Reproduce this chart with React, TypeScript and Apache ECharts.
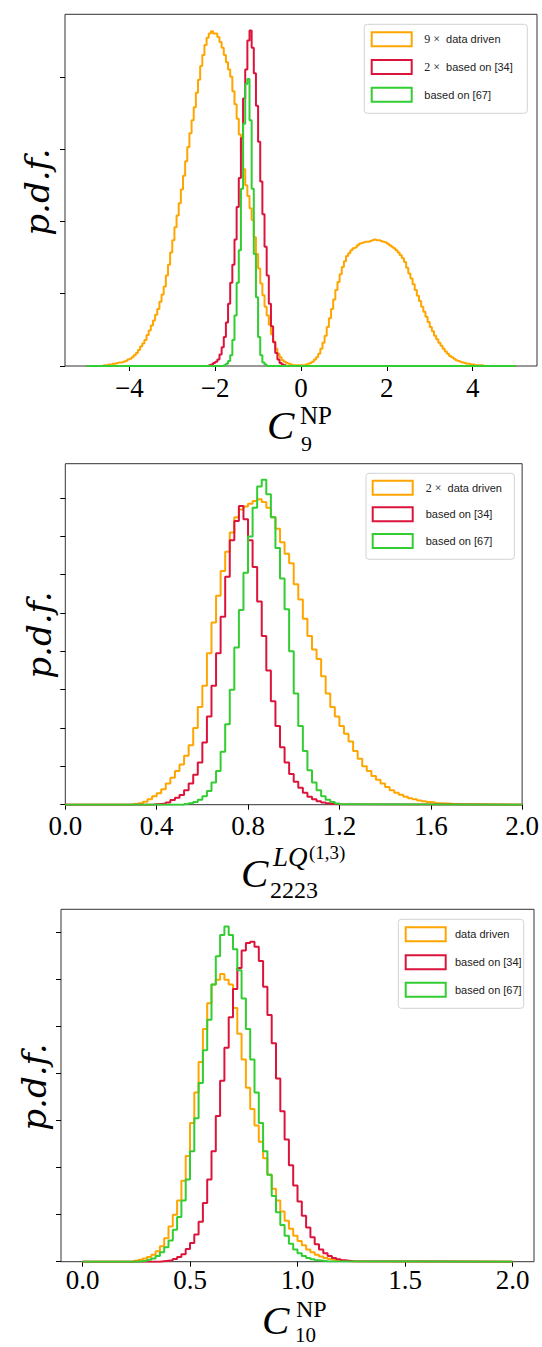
import React, { useEffect, useRef } from "react";
import * as echarts from "echarts";

// ---------- colours ----------
const ORANGE = "#FFA500";
const CRIMSON = "#DC143C";
const LIME = "#32CD32";

// ---------- Panel 1 : C9^NP ----------
const c9Range = [-5, 5];
const c9BinWidth = 0.05;
const c9XTicks = [-4, -2, 0, 2, 4];
const c9YTicks = [0, 1, 2, 3, 4];
const c9DataDrivenStart = -4.6;
const c9DataDriven = [
  0.01, 0.01, 0.02, 0.02, 0.03, 0.03, 0.04, 0.05, 0.05, 0.06, 0.07, 0.09, 0.10, 0.12, 0.15, 0.18,
  0.22, 0.27, 0.31, 0.36, 0.43, 0.49, 0.56, 0.63, 0.71, 0.79, 0.89, 0.99, 1.10, 1.25, 1.40, 1.57,
  1.74, 1.92, 2.08, 2.25, 2.44, 2.63, 2.83, 3.03, 3.22, 3.40, 3.58, 3.78, 3.96, 4.15, 4.30, 4.44,
  4.54, 4.60, 4.63, 4.60, 4.60, 4.55, 4.48, 4.40, 4.30, 4.20, 4.10, 4.00, 3.80, 3.62, 3.42, 3.20,
  2.95, 2.72, 2.50, 2.35, 2.18, 2.02, 1.78, 1.55, 1.35, 1.14, 0.98, 0.82, 0.70, 0.57, 0.44, 0.34,
  0.24, 0.17, 0.12, 0.08, 0.06, 0.04, 0.03, 0.02, 0.01, 0.01, 0.01, 0.01, 0.01, 0.01, 0.02, 0.03,
  0.04, 0.06, 0.09, 0.12, 0.17, 0.24, 0.32, 0.42, 0.54, 0.66, 0.79, 0.92, 1.05, 1.16, 1.27, 1.37,
  1.45, 1.52, 1.56, 1.60, 1.63, 1.64, 1.67, 1.69, 1.70, 1.71, 1.72, 1.72, 1.73, 1.74, 1.75, 1.74,
  1.74, 1.73, 1.72, 1.71, 1.69, 1.67, 1.65, 1.63, 1.60, 1.57, 1.53, 1.49, 1.44, 1.36, 1.28, 1.21,
  1.13, 1.05, 0.97, 0.90, 0.82, 0.75, 0.68, 0.61, 0.54, 0.48, 0.42, 0.37, 0.32, 0.28, 0.24, 0.20,
  0.17, 0.14, 0.12, 0.10, 0.08, 0.07, 0.06, 0.05, 0.04, 0.03, 0.03, 0.02, 0.02, 0.01, 0.01, 0.01,
  0.01,
];
const c9Ref34Start = -2.15;
const c9Ref34 = [
  0.01, 0.02, 0.04, 0.06, 0.09, 0.16, 0.26, 0.40, 0.60, 0.86, 1.15, 1.40, 1.75, 2.20, 2.60, 3.15,
  3.70, 4.10, 4.50, 4.64, 4.40, 4.05, 3.60, 3.10, 2.55, 2.10, 1.65, 1.25, 0.86, 0.55, 0.33, 0.18,
  0.09, 0.04, 0.02, 0.01,
];
const c9Ref67Start = -1.8;
const c9Ref67 = [
  0.01, 0.03, 0.07, 0.15, 0.36, 0.70, 1.15, 1.60, 2.45, 3.35, 3.90, 3.97, 3.40, 2.45, 1.55, 0.95,
  0.40, 0.15, 0.05, 0.02,
];
const c9Names = ["9 × data driven", "2 × based on [34]", "based on [67]"];
const c9LegendText = ["{m|9 × } data driven", "{m|2 × } based on [34]", "based on [67]"];

// ---------- Panel 2 : C2223^LQ(1,3) ----------
const lqRange = [0, 2];
const lqBinWidth = 0.02;
const lqXTicks = [0, 0.4, 0.8, 1.2, 1.6, 2.0];
const lqYTicks = [0, 1, 2, 3, 4, 5, 6, 7, 8];
const lqDataDrivenStart = 0.3;
const lqDataDriven = [
  0.02, 0.04, 0.08, 0.14, 0.22, 0.30, 0.40, 0.55, 0.70, 0.88, 1.05, 1.28, 1.55, 2.00, 2.55, 3.10,
  3.95, 4.75, 5.45, 6.10, 6.60, 7.10, 7.50, 7.70, 7.78, 7.85, 7.92, 7.97, 7.90, 7.75, 7.50, 7.20,
  6.85, 6.55, 6.30, 5.75, 5.35, 4.85, 4.40, 4.05, 3.80, 3.35, 2.90, 2.55, 2.30, 2.05, 1.85, 1.65,
  1.40, 1.20, 1.00, 0.88, 0.75, 0.65, 0.55, 0.46, 0.38, 0.31, 0.26, 0.21, 0.17, 0.14, 0.11, 0.09,
  0.07, 0.06, 0.04, 0.03, 0.03, 0.02, 0.02, 0.01, 0.01,
];
const lqRef34Start = 0.38;
const lqRef34 = [
  0.01, 0.02, 0.03, 0.06, 0.12, 0.18, 0.25, 0.38, 0.55, 0.78, 1.10, 1.62, 2.30, 3.10, 3.95, 4.90,
  5.95, 6.90, 7.40, 7.79, 7.45, 6.90, 6.20, 5.30, 4.40, 3.50, 2.70, 2.05, 1.50, 1.10, 0.80, 0.60,
  0.44, 0.31, 0.21, 0.14, 0.09, 0.06, 0.04, 0.02, 0.01,
];
const lqRef67Start = 0.52;
const lqRef67 = [
  0.02, 0.04, 0.07, 0.13, 0.22, 0.36, 0.58, 0.88, 1.38, 2.10, 3.00, 4.10, 5.08, 6.05, 7.00, 7.75,
  8.30, 8.48, 8.10, 7.50, 6.70, 5.90, 5.10, 4.00, 2.90, 2.05, 1.40, 0.90, 0.58, 0.38, 0.22, 0.13,
  0.07, 0.03, 0.01,
];
const lqNames = ["2 × data driven", "based on [34]", "based on [67]"];
const lqLegendText = ["{m|2 × } data driven", "based on [34]", "based on [67]"];

// ---------- Panel 3 : C10^NP ----------
const c10Range = [0, 2];
const c10BinWidth = 0.02;
const c10XTicks = [0, 0.5, 1.0, 1.5, 2.0];
const c10YTicks = [0, 1, 2, 3, 4, 5, 6, 7];
const c10DataDrivenStart = 0.24;
const c10DataDriven = [
  0.02, 0.04, 0.07, 0.10, 0.15, 0.22, 0.33, 0.50, 0.75, 1.00, 1.30, 1.72, 2.25, 2.95, 3.60, 4.25,
  4.95, 5.50, 5.90, 6.00, 6.12, 6.00, 5.90, 5.40, 4.85, 4.30, 3.70, 3.25, 2.90, 2.55, 2.20, 1.85,
  1.55, 1.30, 1.07, 0.87, 0.70, 0.55, 0.44, 0.35, 0.26, 0.20, 0.15, 0.11, 0.08, 0.06, 0.04, 0.03,
  0.02, 0.01,
];
const c10Ref34Start = 0.36;
const c10Ref34 = [
  0.01, 0.02, 0.03, 0.06, 0.10, 0.16, 0.27, 0.40, 0.58, 0.85, 1.25, 1.75, 2.35, 3.10, 3.85, 4.55,
  5.20, 5.80, 6.25, 6.62, 6.78, 6.81, 6.70, 6.40, 5.85, 5.25, 4.65, 3.90, 3.20, 2.60, 2.05, 1.62,
  1.28, 0.98, 0.73, 0.52, 0.37, 0.26, 0.18, 0.12, 0.08, 0.05, 0.03, 0.02, 0.01,
];
const c10Ref67Start = 0.26;
const c10Ref67 = [
  0.01, 0.02, 0.04, 0.07, 0.12, 0.20, 0.31, 0.45, 0.68, 0.95, 1.30, 1.75, 2.35, 3.05, 3.80, 4.50,
  5.15, 5.90, 6.50, 6.95, 7.13, 6.95, 6.65, 6.20, 5.60, 4.95, 4.30, 3.60, 2.95, 2.35, 1.85, 1.40,
  1.05, 0.78, 0.55, 0.38, 0.26, 0.18, 0.12, 0.08, 0.05, 0.03, 0.02, 0.01,
];
const c10Names = ["data driven", "based on [34]", "based on [67]"];
const c10LegendText = ["data driven", "based on [34]", "based on [67]"];

const SERIES_COLORS = [ORANGE, CRIMSON, LIME];

// ---------- helpers ----------
function stepPoints(range: number[], width: number, start: number, values: number[]) {
  const pts: number[][] = [[range[0], 0]];
  values.forEach((v, i) => pts.push([Number((start + i * width).toFixed(5)), v]));
  pts.push([Number((start + values.length * width).toFixed(5)), 0]);
  pts.push([range[1], 0]);
  return pts;
}

const SERIF = "'Liberation Serif', 'Times New Roman', serif";
const SANS = "'Liberation Sans', Arial, sans-serif";

type Part = { t: string; x: number; b: number; s: number; it?: boolean };

function mathText(parts: Part[]) {
  return parts.map((p) => ({
    type: "text",
    x: p.x,
    y: p.b - 0.34 * p.s,
    silent: true,
    style: {
      text: p.t,
      fontFamily: SERIF,
      fontSize: p.s,
      lineHeight: Math.round(p.s * 0.72),
      fontStyle: p.it ? "italic" : "normal",
      fill: "#000",
      align: "left",
      verticalAlign: "middle",
    },
  }));
}

function legendBox(
  box: { x: number; y: number; w: number; h: number },
  patchX: number,
  textX: number,
  rowsY: number[],
  texts: string[]
) {
  const els: any[] = [
    {
      type: "rect",
      shape: { x: box.x, y: box.y, width: box.w, height: box.h, r: 3 },
      style: { fill: "rgba(255,255,255,0.85)", stroke: "#d3d3d3", lineWidth: 1 },
      silent: true,
      z: 10,
    },
  ];
  texts.forEach((t, i) => {
    els.push({
      type: "rect",
      shape: { x: patchX, y: rowsY[i] - 7, width: 40, height: 14 },
      style: { fill: "#fff", stroke: SERIES_COLORS[i], lineWidth: 2 },
      silent: true,
      z: 11,
    });
    els.push({
      type: "text",
      x: textX,
      y: rowsY[i],
      silent: true,
      z: 11,
      style: {
        text: t,
        fontFamily: SANS,
        fontSize: 11,
        fill: "#222",
        align: "left",
        verticalAlign: "middle",
        rich: { m: { fontFamily: SERIF, fontSize: 12, fill: "#222" } },
      },
    });
  });
  return els;
}

function pdfLabel(x: number, y: number) {
  return {
    type: "text",
    x,
    y,
    rotation: Math.PI / 2,
    silent: true,
    style: {
      text: "p.d.f.",
      fontFamily: "'DejaVu Serif', serif",
      fontStyle: "italic",
      fontSize: 34,
      fill: "#000",
      align: "center",
      verticalAlign: "middle",
    },
  };
}

const minusFmt = (v: number) => (v < 0 ? "\u2212" + Math.abs(v) : String(v));
const fixed1 = (v: number) => v.toFixed(1);

export default function App() {
  const ref = useRef<HTMLDivElement>(null);

  useEffect(() => {
    if (!ref.current) return;
    const chart = echarts.init(ref.current, undefined, { renderer: "svg" });

    const panels = [
      {
        grid: { left: 65, top: 14.3, width: 472, height: 351.7 },
        xMin: -5.5, xMax: 5.5, yMax: 4.864, labelMargin: 8,
        xTicks: c9XTicks, yTicks: c9YTicks, fmt: minusFmt,
        range: c9Range, bw: c9BinWidth, names: c9Names,
        hists: [
          [c9DataDrivenStart, c9DataDriven],
          [c9Ref34Start, c9Ref34],
          [c9Ref67Start, c9Ref67],
        ] as [number, number[]][],
      },
      {
        grid: { left: 65.3, top: 463.7, width: 458.4, height: 341 },
        xMin: 0, xMax: 2, yMax: 8.896, labelMargin: 8,
        xTicks: lqXTicks, yTicks: lqYTicks, fmt: fixed1,
        range: lqRange, bw: lqBinWidth, names: lqNames,
        hists: [
          [lqDataDrivenStart, lqDataDriven],
          [lqRef34Start, lqRef34],
          [lqRef67Start, lqRef67],
        ] as [number, number[]][],
      },
      {
        grid: { left: 61, top: 909.3, width: 473, height: 352.4 },
        xMin: -0.1, xMax: 2.1, yMax: 7.498, labelMargin: 5,
        xTicks: c10XTicks, yTicks: c10YTicks, fmt: fixed1,
        range: c10Range, bw: c10BinWidth, names: c10Names,
        hists: [
          [c10DataDrivenStart, c10DataDriven],
          [c10Ref34Start, c10Ref34],
          [c10Ref67Start, c10Ref67],
        ] as [number, number[]][],
      },
    ];

    const series: any[] = [];
    panels.forEach((p, gi) => {
      p.hists.forEach(([start, vals], si) => {
        series.push({
          type: "line",
          name: p.names[si],
          xAxisIndex: gi,
          yAxisIndex: gi,
          step: "end",
          symbol: "none",
          showSymbol: false,
          clip: true,
          lineStyle: { color: SERIES_COLORS[si], width: 2 },
          itemStyle: { color: SERIES_COLORS[si] },
          data: stepPoints(p.range, p.bw, start, vals),
        });
      });
    });

    const graphic: any[] = [
      pdfLabel(37, 192),
      pdfLabel(39, 635),
      pdfLabel(34, 1087),
      ...mathText([
        { t: "C", x: 267, b: 439, s: 41, it: true },
        { t: "NP", x: 300, b: 424, s: 25 },
        { t: "9", x: 301, b: 451, s: 22 },
      ]),
      ...mathText([
        { t: "C", x: 241, b: 887, s: 41, it: true },
        { t: "LQ", x: 273, b: 866, s: 27, it: true },
        { t: "(1,3)", x: 309, b: 859, s: 19 },
        { t: "2223", x: 270, b: 898, s: 24 },
      ]),
      ...mathText([
        { t: "C", x: 262, b: 1334, s: 41, it: true },
        { t: "NP", x: 296, b: 1317.5, s: 24 },
        { t: "10", x: 295, b: 1342, s: 21 },
      ]),
      ...legendBox({ x: 364.3, y: 24.3, w: 163, h: 89 }, 371.7, 424.3, [39.3, 67, 94.7], c9LegendText),
      ...legendBox({ x: 366, y: 473.3, w: 148.3, h: 86 }, 372.7, 425.7, [487.7, 514.3, 541], lqLegendText),
      ...legendBox({ x: 398.3, y: 919.3, w: 125.4, h: 89 }, 405.7, 455, [934.3, 962.3, 989.7], c10LegendText),
    ];

    const option: any = {
      animation: false,
      backgroundColor: "#fff",
      grid: panels.map((p) => ({
        ...p.grid,
        show: true,
        borderColor: "#333",
        borderWidth: 1,
        backgroundColor: "transparent",
        containLabel: false,
      })),
      xAxis: panels.map((p, i) => ({
        type: "value",
        gridIndex: i,
        min: p.xMin,
        max: p.xMax,
        position: "bottom",
        axisLine: { show: false, onZero: false },
        splitLine: { show: false },
        axisTick: {
          show: true,
          customValues: p.xTicks,
          length: 5,
          lineStyle: { color: "#000", width: 1 },
        },
        axisLabel: {
          show: true,
          customValues: p.xTicks,
          formatter: p.fmt,
          fontFamily: SERIF,
          fontSize: 27,
          color: "#000",
          margin: p.labelMargin,
        },
      })),
      yAxis: panels.map((p, i) => ({
        type: "value",
        gridIndex: i,
        min: 0,
        max: p.yMax,
        position: "left",
        axisLine: { show: false, onZero: false },
        splitLine: { show: false },
        axisTick: {
          show: true,
          customValues: p.yTicks,
          length: 5,
          lineStyle: { color: "#000", width: 1 },
        },
        axisLabel: { show: false },
      })),
      series,
      graphic: { elements: graphic },
    };

    chart.setOption(option);
    return () => chart.dispose();
  }, []);

  return (
    <div
      ref={ref}
      style={{ position: "absolute", left: 0, top: 0, width: 542, height: 1347, background: "#fff" }}
    />
  );
}
